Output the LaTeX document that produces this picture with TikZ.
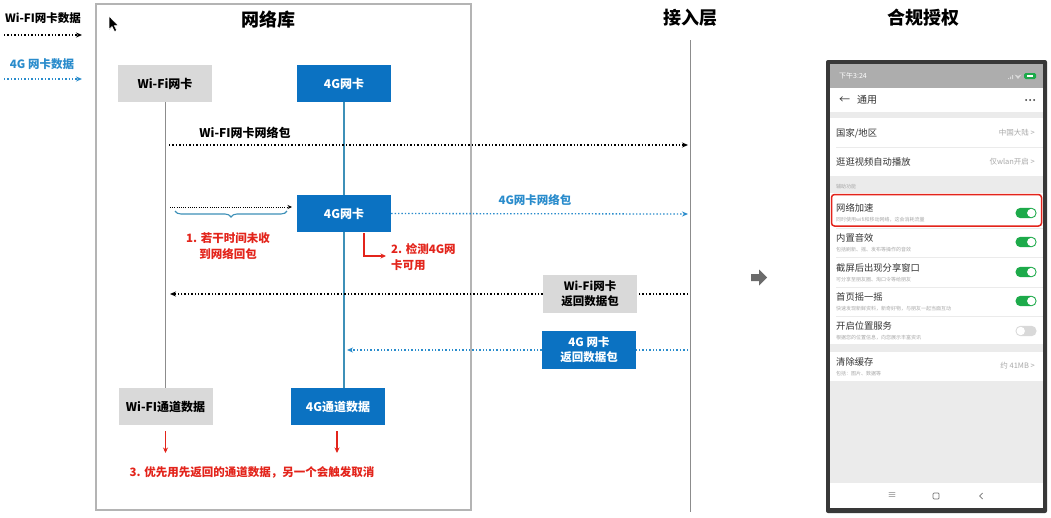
\documentclass[tikz,border=0pt]{standalone}
\usepackage{fontspec}
\setmainfont{Noto Sans CJK SC}
\usetikzlibrary{arrows.meta,decorations.pathreplacing,calc}
\definecolor{boxgray}{HTML}{D9D9D9}
\definecolor{boxblue}{HTML}{0B72C2}
\definecolor{lineblue}{HTML}{2A8CCC}
\definecolor{lifeblue}{HTML}{3D90B8}
\definecolor{lifegray}{HTML}{8C8C8C}
\definecolor{myred}{HTML}{E3241B}
\definecolor{framegray}{HTML}{B4B4B4}
\definecolor{phonedark}{HTML}{383838}
\definecolor{phonebg}{HTML}{EBEBEB}
\definecolor{ptext}{HTML}{333333}
\definecolor{psub}{HTML}{A8A8A8}
\definecolor{pgreen}{HTML}{1DAA4A}
\definecolor{arrowgray}{HTML}{6B6B6B}
\newcommand{\fs}[1]{\fontsize{#1pt}{\dimexpr#1pt*4/3\relax}\selectfont}
\tikzset{
  gbox/.style={fill=boxgray, minimum width=94pt, minimum height=37pt, inner sep=0pt, align=center, font=\bfseries\fs{12}},
  bbox/.style={fill=boxblue, text=white, minimum width=94pt, minimum height=37pt, inner sep=0pt, align=center, font=\bfseries\fs{12}},
  dotline/.style={line width=1.3pt, dash pattern=on 1.4pt off 2pt},
  tip/.style={-{Stealth[length=6pt,width=5pt]}},
  header/.style={font=\bfseries\fs{18}, inner sep=0pt},
  redtxt/.style={text=myred, font=\bfseries\fs{11.5}, inner sep=0pt},
  ptitle/.style={anchor=west, text=ptext, font=\fs{9.3}, inner sep=0pt},
  psubt/.style={anchor=west, text=psub, font=\fs{5}, inner sep=0pt},
  pright/.style={anchor=east, text=psub, font=\fs{7.5}, inner sep=0pt},
}
\newcommand{\toggle}[3]{% x y on/off
  \ifnum#3=1
    \fill[pgreen, rounded corners=5pt] (#1-10.5,#2-5.2) rectangle (#1+10.5,#2+5.2);
    \fill[white] (#1+5.3,#2) circle (4.2pt);
  \else
    \fill[black!15, rounded corners=5pt] (#1-10.5,#2-5.2) rectangle (#1+10.5,#2+5.2);
    \fill[white] (#1-5.3,#2) circle (4.2pt);
  \fi}
\begin{document}
\begin{tikzpicture}[x=1pt,y=-1pt]
\useasboundingbox (0,0) rectangle (1051,517);
\fill[white] (0,0) rectangle (1051,517);

% ---------- legend ----------
\node[font=\bfseries\fs{11.5}, inner sep=0pt] (lgw) at (43,18) {Wi-FI网卡数据};
\coordinate (lgwa) at (4,35); \coordinate (lgwb) at (82,35);
\draw[dotline, tip, black] (lgwa) -- (lgwb);
\node[font=\bfseries\fs{11.5}, text=lineblue, inner sep=0pt] (lg4) at (42,64) {4G 网卡数据};
\coordinate (lg4a) at (4,79); \coordinate (lg4b) at (82,79);
\draw[dotline, tip, lineblue] (lg4a) -- (lg4b);

% ---------- frame ----------
\node[draw=framegray, line width=1.2pt, minimum width=375pt, minimum height=506pt, inner sep=0pt] (frame) at (283.5,257) {};
\node[header] (h1) at (268,20) {网络库};
\node[header] (h2) at (690,18) {接入层};
\node[header] (h3) at (923,18) {合规授权};

% cursor
\filldraw[fill=black, draw=white, line width=0.6pt] (109,16) -- (109,29.5) -- (112,26.5) -- (114.5,31.5) -- (116.8,30.5) -- (114.3,25.6) -- (118.3,25.6) -- cycle;

% ---------- nodes ----------
\node[gbox] (wifi) at (165,83.5) {Wi-Fi网卡};
\node[bbox] (g4a) at (344,83.5) {4G网卡};
\node[bbox] (g4b) at (344,213.5) {4G网卡};
\node[gbox, minimum height=38pt, font=\bfseries\fs{11.5}] (wret) at (590,294) {Wi-Fi网卡\\返回数据包};
\node[bbox, minimum height=38pt, font=\bfseries\fs{11.5}] (g4ret) at (589,350) {4G 网卡\\返回数据包};
\node[gbox] (wch) at (165.5,406.5) {Wi-FI通道数据};
\node[bbox] (g4ch) at (338,406.5) {4G通道数据};

% lifelines
\draw[lifegray, line width=1pt] (wifi.south) -- (wch.north -| wifi.south);
\draw[lifeblue, line width=1.4pt] (g4a.south) -- (g4b.north);
\draw[lifeblue, line width=1.4pt] (g4b.south) -- (g4b.south |- g4ch.north);
\coordinate (accT) at (690,40); \coordinate (accB) at (690,512);
\draw[black!45, line width=1pt] (accT) -- (accB);

% Wi-Fi packet
\coordinate (p1s) at (169,145); \coordinate (p1e) at (688,145);
\draw[dotline, tip] (p1s) -- (p1e);
\node[font=\bfseries\fs{12}, inner sep=0pt] (p1l) at (245,133) {Wi-FI网卡网络包};

% 4G packet
\coordinate (p2e) at (688,214);
\draw[dotline, tip, lineblue] (g4b.east) -- (p2e);
\node[font=\bfseries\fs{11.5}, text=lineblue, inner sep=0pt] (p2l) at (535,200) {4G网卡网络包};

% timeout small arrow and brace
\coordinate (t1) at (170,207); \coordinate (t2) at (292,207);
\draw[line width=0.6pt, dash pattern=on 1pt off 1.2pt, -{Stealth[length=4.5pt,width=4pt]}] (t1) -- (t2);
\coordinate (b1) at (175,211); \coordinate (b2) at (287,211);
\draw[lifeblue, line width=1.1pt, decorate, decoration={brace, mirror, amplitude=6pt}] (b1) -- (b2);
\node[redtxt, align=center] (n1) at (228,246) {1. 若干时间未收\\到网络回包};

% check 4G
\coordinate (e1) at (364,233); \coordinate (e2) at (364,256); \coordinate (e3) at (386,256);
\draw[myred, line width=1.1pt, -{Stealth[length=5.5pt,width=5pt]}] (e1) -- (e2) -- (e3);
\node[redtxt, align=left, anchor=west] (n2) at (391,257) {2. 检测4G网\\卡可用};

% Wi-Fi return
\coordinate (r1a) at (688,294); \coordinate (r1b) at (170,294);
\draw[dotline] (r1a) -- (wret.east);
\draw[dotline, tip] (wret.west) -- (r1b);
% 4G return
\coordinate (r2a) at (688,350); \coordinate (r2b) at (347,350);
\draw[dotline, lineblue] (r2a) -- (g4ret.east);
\draw[dotline, lineblue, tip] (g4ret.west) -- (r2b);

% result arrows
\coordinate (d1a) at (165.5,431); \coordinate (d1b) at (165.5,453);
\coordinate (d2a) at (337,431); \coordinate (d2b) at (337,453);
\draw[myred, line width=1.1pt, -{Stealth[length=5.5pt,width=5pt]}] (d1a) -- (d1b);
\draw[myred, line width=1.1pt, -{Stealth[length=5.5pt,width=5pt]}] (d2a) -- (d2b);
\node[redtxt] (n3) at (252,472) {3. 优先用先返回的通道数据，另一个会触发取消};

% big gray arrow
\fill[arrowgray] (751,274) -- (759,274) -- (759,269.5) -- (767,277.5) -- (759,285.5) -- (759,281) -- (751,281) -- cycle;

% ---------- phone ----------
\fill[phonedark, rounded corners=2pt] (826,60) rectangle (1047,513);
\fill[phonebg] (830,64) rectangle (1043,508);
% status bar
\fill[black!32] (830,64) rectangle (1043,88);
\node[anchor=west, text=white, font=\fs{7}, inner sep=0pt] at (839,76) {下午3:24};
\fill[white!85!black] (1008,78) rectangle (1009,79) (1010,76.5) rectangle (1011,79) (1012,75) rectangle (1013,79);
\fill[white!85!black] (1018,79) -- (1014.5,74.5) arc (-135:-45:5pt) -- cycle;
\fill[pgreen, rounded corners=1.5pt] (1024,73) rectangle (1036,79);
\fill[white] (1027,75.2) rectangle (1033,76.8);
% header
\fill[white] (830,88) rectangle (1043,112);
\node[anchor=west, text=ptext, font=\fs{11}, inner sep=0pt] at (839,100) {←};
\node[anchor=west, text=ptext, font=\fs{10}, inner sep=0pt] at (857,100) {通用};
\fill[ptext] (1026,100) circle (1pt) (1030,100) circle (1pt) (1034,100) circle (1pt);
% rows group 1
\fill[white] (830,118) rectangle (1043,176);
\draw[black!8] (836,147) -- (1043,147);
\node[ptitle] at (836,133) {国家/地区};
\node[pright] at (1035,133) {中国大陆 >};
\node[ptitle] at (836,162) {逛逛视频自动播放};
\node[pright] at (1035,162) {仅wlan开启 >};
\node[psubt] at (836,187) {辅助功能};
% rows group 2
\fill[white] (830,193) rectangle (1043,344);
\foreach \y in {228,257,287,316} {\draw[black!8] (836,\y) -- (1043,\y);}
\node[ptitle] at (836,208) {网络加速};
\node[psubt] at (836,219.5) {同时使用wifi和移动网络，这会消耗流量};
\toggle{1026}{213}{1}
\node[ptitle] at (836,238) {内置音效};
\node[psubt] at (836,249.5) {包括刷新、摇、发布等操作的音效};
\toggle{1026}{242}{1}
\node[ptitle] at (836,268) {截屏后出现分享窗口};
\node[psubt] at (836,279.5) {可分享至朋友圈、淘口令等给朋友};
\toggle{1026}{272}{1}
\node[ptitle] at (836,297) {首页摇一摇};
\node[psubt] at (836,308.5) {快速发现新鲜资料，新奇好物，与朋友一起当面互动};
\toggle{1026}{301}{1}
\node[ptitle] at (836,326) {开启位置服务};
\node[psubt] at (836,337.5) {根据您的位置信息，向您展示丰富资讯};
\toggle{1026}{331}{0}
% highlight
\draw[myred, line width=1.5pt, rounded corners=3pt] (831.5,194.5) rectangle (1041.5,226);
% clear cache
\fill[white] (830,352) rectangle (1043,381);
\node[ptitle] at (836,362) {清除缓存};
\node[psubt] at (836,373.5) {包括：图片、数据等};
\node[pright] at (1035,366) {约 41MB >};
% nav bar
\fill[white] (830,483) rectangle (1043,508);
\node[text=black!55, font=\fs{9}, inner sep=0pt] at (892,496) {≡};
\draw[black!55, line width=0.7pt, rounded corners=1pt] (933,493) rectangle (939,499);
\draw[black!55, line width=0.7pt] (982.5,493) -- (979.5,496) -- (982.5,499);
\end{tikzpicture}
\end{document}
